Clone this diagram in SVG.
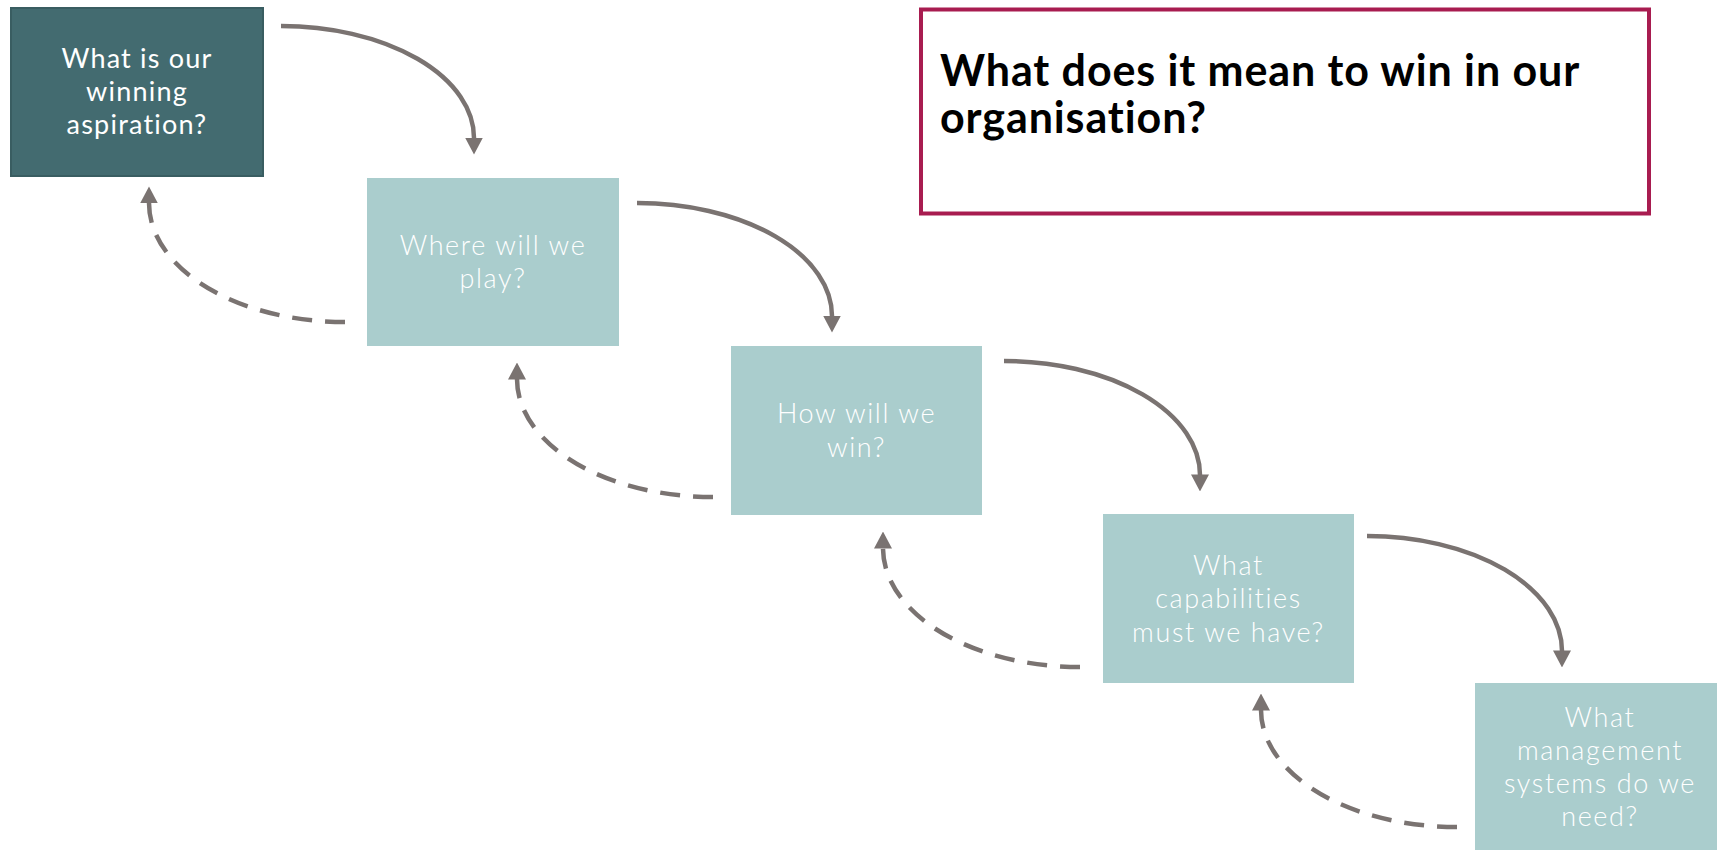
<svg xmlns="http://www.w3.org/2000/svg" width="1717" height="850" viewBox="0 0 1717 850">
<defs>
<marker id="ah" markerUnits="userSpaceOnUse" viewBox="0 0 17 18" refX="0.5" refY="9" markerWidth="17" markerHeight="18" orient="auto">
<path d="M0,0 L17,9 L0,18 z" fill="#7a7371"/>
</marker>
</defs>
<style>
.box{fill:#aacdcd;}
.dark{fill:#436b70;stroke:#395d61;stroke-width:2;}
.t{font-family:Lato,"Open Sans","Liberation Sans",sans-serif;font-size:27px;fill:#ffffff;text-anchor:middle;font-weight:300;letter-spacing:1.6px;}
.t1{font-weight:400;letter-spacing:1.2px;}
.solid{fill:none;stroke:#7a7371;stroke-width:4.5;marker-end:url(#ah);}
.dash{fill:none;stroke:#7a7371;stroke-width:4.5;stroke-dasharray:20 13;marker-end:url(#ah);}
.title{font-family:Lato,"Open Sans","Liberation Sans",sans-serif;font-size:43px;font-weight:700;fill:#000000;letter-spacing:0.9px;}
</style>
<rect width="1717" height="850" fill="#ffffff"/>
<g id="connectors">
<path class="solid" d="M281,26 A193,112 0 0 1 474,138"/>
<path class="solid" d="M637,203 A195,113 0 0 1 832,316"/>
<path class="solid" d="M1004,361 A196,114 0 0 1 1200,475"/>
<path class="solid" d="M1367,536 A195,115 0 0 1 1562,651"/>
<path class="dash" d="M345,322 A196,119 0 0 1 149,203"/>
<path class="dash" d="M713,497 A196,118 0 0 1 517,379"/>
<path class="dash" d="M1080,667 A197,119 0 0 1 883,548"/>
<path class="dash" d="M1457,827 A196,117 0 0 1 1261,710"/>
</g>
<g id="node1">
<rect class="dark" x="11" y="8" width="252" height="168"/>
<text class="t t1" x="137" y="68">What is our</text>
<text class="t t1" x="137" y="101">winning</text>
<text class="t t1" x="137" y="134">aspiration?</text>
</g>
<g id="node2">
<rect class="box" x="367" y="178" width="252" height="168"/>
<text class="t" x="493" y="255">Where will we</text>
<text class="t" x="493" y="288">play?</text>
</g>
<g id="node3">
<rect class="box" x="731" y="346" width="251" height="169"/>
<text class="t" x="856.5" y="423">How will we</text>
<text class="t" x="856.5" y="457">win?</text>
</g>
<g id="node4">
<rect class="box" x="1103" y="514" width="251" height="169"/>
<text class="t" x="1228.5" y="575">What</text>
<text class="t" x="1228.5" y="608">capabilities</text>
<text class="t" x="1228.5" y="642">must we have?</text>
</g>
<g id="node5">
<rect class="box" x="1475" y="683" width="252" height="170"/>
<text class="t" x="1600" y="727">What</text>
<text class="t" x="1600" y="760">management</text>
<text class="t" x="1600" y="793">systems do we</text>
<text class="t" x="1600" y="826">need?</text>
</g>
<g id="question">
<rect x="921" y="9.5" width="728" height="204" fill="#ffffff" stroke="#a81c50" stroke-width="4"/>
<text class="title" x="940" y="86">What does it mean to win in our</text>
<text class="title" x="940" y="133">organisation?</text>
</g>
</svg>
